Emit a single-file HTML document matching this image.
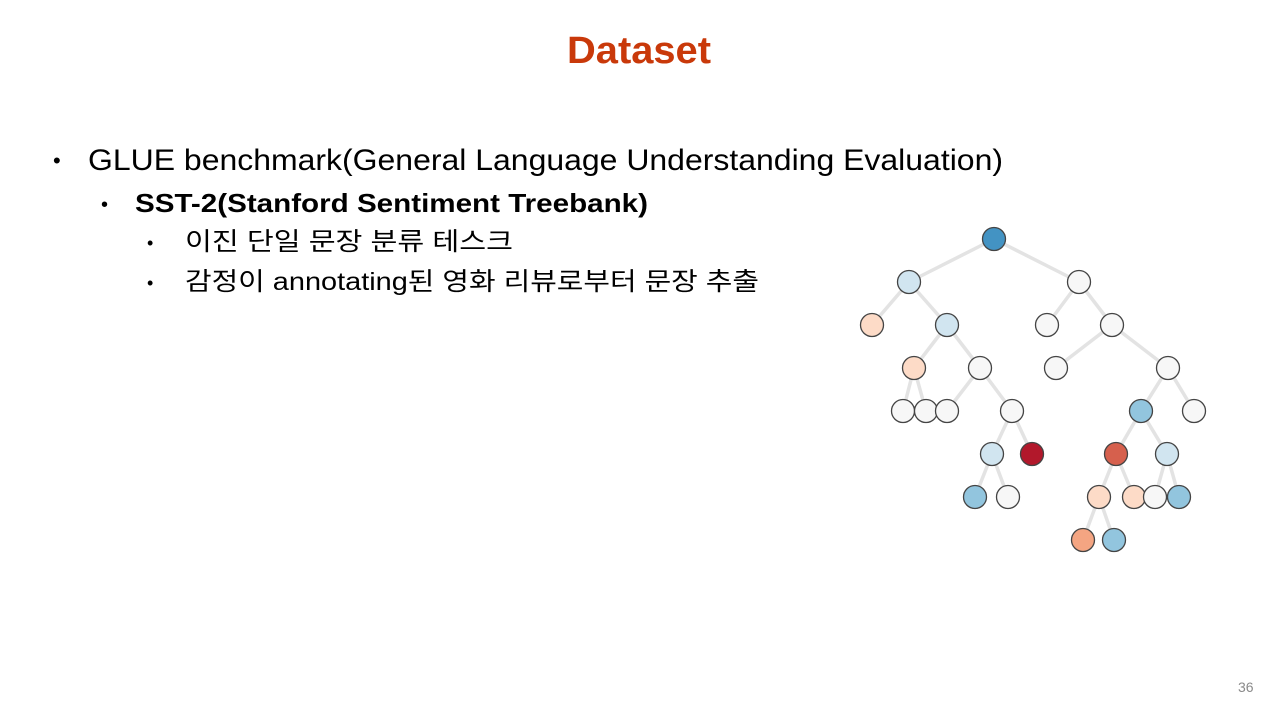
<!DOCTYPE html>
<html><head><meta charset="utf-8"><style>html,body{margin:0;padding:0;background:#fff;width:1280px;height:720px;overflow:hidden}</style></head>
<body>
<svg width="1280" height="720" xmlns="http://www.w3.org/2000/svg" font-family="'Liberation Sans','Noto Sans CJK KR',sans-serif">
<text x="567" y="63" font-size="38" font-weight="bold" fill="#c9390a" textLength="144" lengthAdjust="spacingAndGlyphs">Dataset</text>
<text x="53" y="168" font-size="22" fill="#000">•</text>
<text x="88" y="170" font-size="30" fill="#000" textLength="915" lengthAdjust="spacingAndGlyphs">GLUE benchmark(General Language Understanding Evaluation)</text>
<text x="101" y="211" font-size="20" fill="#000">•</text>
<text x="135" y="212" font-size="26" font-weight="bold" fill="#000" textLength="513" lengthAdjust="spacingAndGlyphs">SST-2(Stanford Sentiment Treebank)</text>
<text x="147" y="249" font-size="18" fill="#000">•</text>
<text x="185" y="250" font-size="25" fill="#000" textLength="328" lengthAdjust="spacingAndGlyphs">이진 단일 문장 분류 테스크</text>
<text x="147" y="289" font-size="18" fill="#000">•</text>
<text x="185" y="290" font-size="25" fill="#000" textLength="574" lengthAdjust="spacingAndGlyphs">감정이 annotating된 영화 리뷰로부터 문장 추출</text>
<text x="1238" y="692" font-size="14" fill="#8a8a8a">36</text>
<g stroke="#e3e3e3" stroke-width="3.5">
<line x1="994" y1="239" x2="909" y2="282"/><line x1="994" y1="239" x2="1079" y2="282"/>
<line x1="909" y1="282" x2="872" y2="325"/><line x1="909" y1="282" x2="947" y2="325"/>
<line x1="947" y1="325" x2="914" y2="368"/><line x1="947" y1="325" x2="980" y2="368"/>
<line x1="914" y1="368" x2="903" y2="411"/><line x1="914" y1="368" x2="926" y2="411"/>
<line x1="980" y1="368" x2="947" y2="411"/><line x1="980" y1="368" x2="1012" y2="411"/>
<line x1="1012" y1="411" x2="992" y2="454"/><line x1="1012" y1="411" x2="1032" y2="454"/>
<line x1="992" y1="454" x2="975" y2="497"/><line x1="992" y1="454" x2="1008" y2="497"/>
<line x1="1079" y1="282" x2="1047" y2="325"/><line x1="1079" y1="282" x2="1112" y2="325"/>
<line x1="1112" y1="325" x2="1056" y2="368"/><line x1="1112" y1="325" x2="1168" y2="368"/>
<line x1="1168" y1="368" x2="1141" y2="411"/><line x1="1168" y1="368" x2="1194" y2="411"/>
<line x1="1141" y1="411" x2="1116" y2="454"/><line x1="1141" y1="411" x2="1167" y2="454"/>
<line x1="1116" y1="454" x2="1099" y2="497"/><line x1="1116" y1="454" x2="1134" y2="497"/>
<line x1="1167" y1="454" x2="1155" y2="497"/><line x1="1167" y1="454" x2="1179" y2="497"/>
<line x1="1099" y1="497" x2="1083" y2="540"/><line x1="1099" y1="497" x2="1114" y2="540"/>
</g>
<g stroke="#444" stroke-width="1.3">
<circle cx="994" cy="239" r="11.5" fill="#4393c3"/>
<circle cx="909" cy="282" r="11.5" fill="#d1e5f0"/>
<circle cx="1079" cy="282" r="11.5" fill="#f7f7f7"/>
<circle cx="872" cy="325" r="11.5" fill="#fddbc7"/>
<circle cx="947" cy="325" r="11.5" fill="#d1e5f0"/>
<circle cx="1047" cy="325" r="11.5" fill="#f7f7f7"/>
<circle cx="1112" cy="325" r="11.5" fill="#f7f7f7"/>
<circle cx="914" cy="368" r="11.5" fill="#fddbc7"/>
<circle cx="980" cy="368" r="11.5" fill="#f7f7f7"/>
<circle cx="1056" cy="368" r="11.5" fill="#f7f7f7"/>
<circle cx="1168" cy="368" r="11.5" fill="#f7f7f7"/>
<circle cx="903" cy="411" r="11.5" fill="#f7f7f7"/>
<circle cx="926" cy="411" r="11.5" fill="#f7f7f7"/>
<circle cx="947" cy="411" r="11.5" fill="#f7f7f7"/>
<circle cx="1012" cy="411" r="11.5" fill="#f7f7f7"/>
<circle cx="1141" cy="411" r="11.5" fill="#92c5de"/>
<circle cx="1194" cy="411" r="11.5" fill="#f7f7f7"/>
<circle cx="992" cy="454" r="11.5" fill="#d1e5f0"/>
<circle cx="1032" cy="454" r="11.5" fill="#b2182b"/>
<circle cx="1116" cy="454" r="11.5" fill="#d6604d"/>
<circle cx="1167" cy="454" r="11.5" fill="#d1e5f0"/>
<circle cx="975" cy="497" r="11.5" fill="#92c5de"/>
<circle cx="1008" cy="497" r="11.5" fill="#f7f7f7"/>
<circle cx="1099" cy="497" r="11.5" fill="#fddbc7"/>
<circle cx="1134" cy="497" r="11.5" fill="#fddbc7"/>
<circle cx="1155" cy="497" r="11.5" fill="#f7f7f7"/>
<circle cx="1179" cy="497" r="11.5" fill="#92c5de"/>
<circle cx="1083" cy="540" r="11.5" fill="#f4a582"/>
<circle cx="1114" cy="540" r="11.5" fill="#92c5de"/>
</g>
</svg>
</body></html>
